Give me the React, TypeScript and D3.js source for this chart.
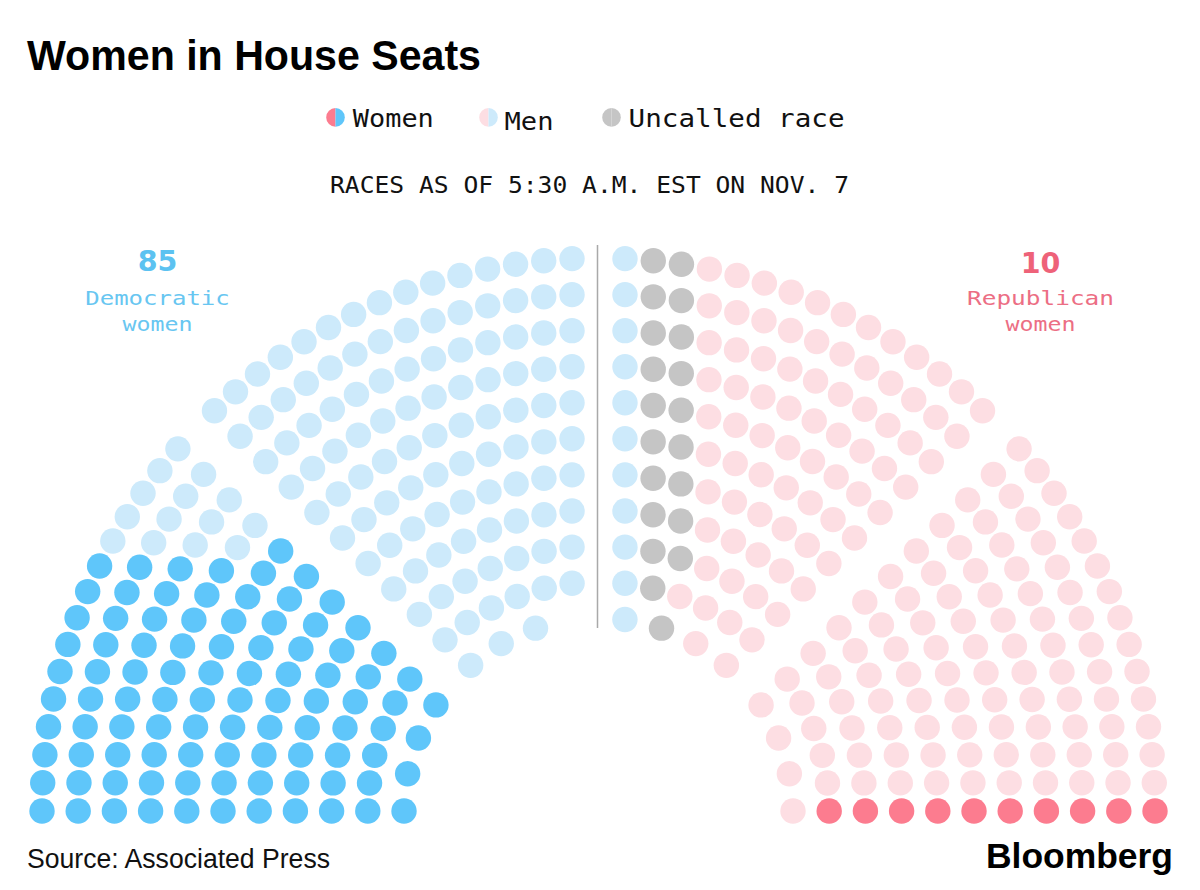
import React, { useMemo } from 'react';
import * as d3 from 'd3';

// seat blocks in the order they sit in the chamber, left to right
const groups = ['Democratic women', 'Democratic men', 'Uncalled race', 'Republican men', 'Republican women'];
const groupSeats = [95, 133, 20, 177, 10];
const groupColors = ['#5fc6fa', '#cdeafb', '#c5c5c5', '#fddee3', '#fc7c8f'];

const legendLabels = ['Women', 'Men', 'Uncalled race'];
const calloutValues = ['85', '10'];
const calloutLines = [['Democratic', 'women'], ['Republican', 'women']];

const TITLE = 'Women in House Seats';
const SUBTITLE = 'RACES AS OF 5:30 A.M. EST ON NOV. 7';
const SOURCE = 'Source: Associated Press';

const W = 1200;
const H = 890;

// hemicycle geometry (px)
const ROWS = 11;
const SECTIONS = 4;
const R_OUT = 556.5;
const ROW_H = 36.2;
const GAP = 53;
const MIN_STEP = 28;
const DOT_R = 12.7;

type Seat = {
  ring: number;
  section: number;
  j: number;
  u: number;
  lx: number;
  ly: number;
  group: number;
};

// rows from the outside in, every row split into equal sections
function buildSeats(total: number): Seat[] {
  const out: Seat[] = [];
  let left = total;
  for (let ring = 0; ring < ROWS && left > 0; ring++) {
    const r = R_OUT - ring * ROW_H;
    const secLen = (Math.PI * r - (SECTIONS - 1) * GAP) / SECTIONS;
    let per = Math.floor(secLen / MIN_STEP) + 1;
    if (ring === ROWS - 1) per = Math.min(per, Math.ceil(left / SECTIONS));
    let row: Seat[] = [];
    for (let s = 0; s < SECTIONS; s++) {
      for (let j = 0; j < per; j++) {
        const u = s * (secLen + GAP) + (per > 1 ? (j * secLen) / (per - 1) : secLen / 2);
        const a = u / r;
        row.push({ ring, section: s, j, u, lx: -r * Math.cos(a), ly: r * Math.sin(a), group: 0 });
      }
    }
    // last row short of seats: leave the spots next to the aisle empty
    if (row.length > left) {
      const mid = (Math.PI * r) / 2;
      const dist = (p: Seat) => Math.round(Math.abs(p.u - mid) * 100);
      const drop = new Set(
        row.slice().sort((p, q) => dist(p) - dist(q) || p.u - q.u).slice(0, row.length - left)
      );
      row = row.filter(p => !drop.has(p));
    }
    left -= row.length;
    out.push(...row);
  }
  return out;
}

function orderSeats(seats: Seat[]): Seat[] {
  const h = (p: Seat) => Math.round(p.ly * 100);
  const sec = (i: number) => seats.filter(p => p.section === i);
  // floor sections fill by height, aisle sections fill column by column
  const s0 = sec(0).sort((p, q) => h(p) - h(q) || p.ring - q.ring);
  const s1 = sec(1).sort((p, q) => p.j - q.j || p.ring - q.ring);
  const s2 = sec(2).sort((p, q) => p.j - q.j || p.ring - q.ring);
  const s3 = sec(3).sort((p, q) => h(q) - h(p) || q.ring - p.ring);
  return [...s0, ...s1, ...s2, ...s3];
}

const mono = "'DejaVu Sans Mono', 'Liberation Mono', monospace";
const sans = "'Liberation Sans', Arial, Helvetica, sans-serif";

export default function App() {
  const total = d3.sum(groupSeats);

  const seats = useMemo(() => {
    const ordered = orderSeats(buildSeats(total));
    const cum = d3.cumsum(groupSeats);
    ordered.forEach((p, i) => {
      p.group = d3.bisectRight(Array.from(cum), i);
    });
    return ordered;
  }, [total]);

  const x = d3.scaleLinear().domain([-R_OUT, R_OUT]).range([42, 1155]);
  const y = d3.scaleLinear().domain([0, R_OUT]).range([811, 258]);

  const half = d3
    .arc<{ s: number; e: number }>()
    .innerRadius(0)
    .outerRadius(9.3)
    .startAngle(d => d.s)
    .endAngle(d => d.e);

  // legend swatches: [left half, right half]
  const legendSwatch = [
    [groupColors[4], groupColors[0]],
    [groupColors[3], groupColors[1]],
    [groupColors[2], groupColors[2]],
  ];
  const legendIconX = [335.5, 488.5, 611.5];
  const legendTextX = [352.8, 504.5, 628.6];
  const legendTextY = [126.7, 129.5, 126.7];
  const legendTextW = [81, 49, 216];

  const calloutX = [157.5, 1040.5];
  const calloutColor = ['#5cc2f1', '#ee6279'];
  const calloutTextColor = ['#68c6f1', '#ec6e84'];
  const calloutLineW = [
    [144.5, 70],
    [147, 70],
  ];

  return (
    <svg
      width={W}
      height={H}
      viewBox={`0 0 ${W} ${H}`}
      style={{ position: 'absolute', left: 0, top: 0, display: 'block', background: '#fff' }}
    >
      <rect width={W} height={H} fill="#fff" />

      <text
        x={27}
        y={70}
        fontFamily={sans}
        fontWeight={700}
        fontSize={42}
        textLength={454}
        lengthAdjust="spacingAndGlyphs"
        fill="#000"
      >
        {TITLE}
      </text>

      {/* legend */}
      {legendLabels.map((label, i) => (
        <g key={label}>
          <g transform={`translate(${legendIconX[i]},117.4)`}>
            <path d={half({ s: Math.PI, e: 2 * Math.PI }) || ''} fill={legendSwatch[i][0]} />
            <path d={half({ s: 0, e: Math.PI }) || ''} fill={legendSwatch[i][1]} />
          </g>
          <text
            x={legendTextX[i]}
            y={legendTextY[i]}
            fontFamily={mono}
            fontSize={25.5}
            textLength={legendTextW[i]}
            lengthAdjust="spacingAndGlyphs"
            fill="#111"
          >
            {label}
          </text>
        </g>
      ))}

      <text
        x={330}
        y={192.5}
        fontFamily={mono}
        fontSize={23.6}
        textLength={519}
        lengthAdjust="spacingAndGlyphs"
        fill="#111"
      >
        {SUBTITLE}
      </text>

      {/* aisle */}
      <line x1={597.5} x2={597.5} y1={245} y2={628} stroke="#a9a9a9" strokeWidth={1.5} />

      {/* seats */}
      <g>
        {seats.map((p, i) => (
          <circle key={i} cx={x(p.lx)} cy={y(p.ly)} r={DOT_R} fill={groupColors[p.group]}>
            <title>{groups[p.group]}</title>
          </circle>
        ))}
      </g>

      {/* callouts */}
      {calloutValues.map((v, i) => (
        <g key={v}>
          <text
            x={calloutX[i]}
            y={i === 0 ? 271 : 273}
            textAnchor="middle"
            fontFamily="'DejaVu Sans', Verdana, sans-serif"
            fontWeight={700}
            fontSize={28.5}
            fill={calloutColor[i]}
          >
            {v}
          </text>
          {calloutLines[i].map((line, k) => (
            <text
              key={line}
              x={calloutX[i] - calloutLineW[i][k] / 2}
              y={k === 0 ? 304.5 : 331}
              fontFamily={mono}
              fontSize={20}
              textLength={calloutLineW[i][k]}
              lengthAdjust="spacingAndGlyphs"
              fill={calloutTextColor[i]}
            >
              {line}
            </text>
          ))}
        </g>
      ))}

      <text x={27} y={868} fontFamily={sans} fontSize={27} textLength={303} lengthAdjust="spacingAndGlyphs" fill="#111">
        {SOURCE}
      </text>
      <text
        x={986}
        y={868}
        fontFamily={sans}
        fontWeight={700}
        fontSize={35}
        textLength={187}
        lengthAdjust="spacingAndGlyphs"
        fill="#000"
      >
        Bloomberg
      </text>
    </svg>
  );
}
